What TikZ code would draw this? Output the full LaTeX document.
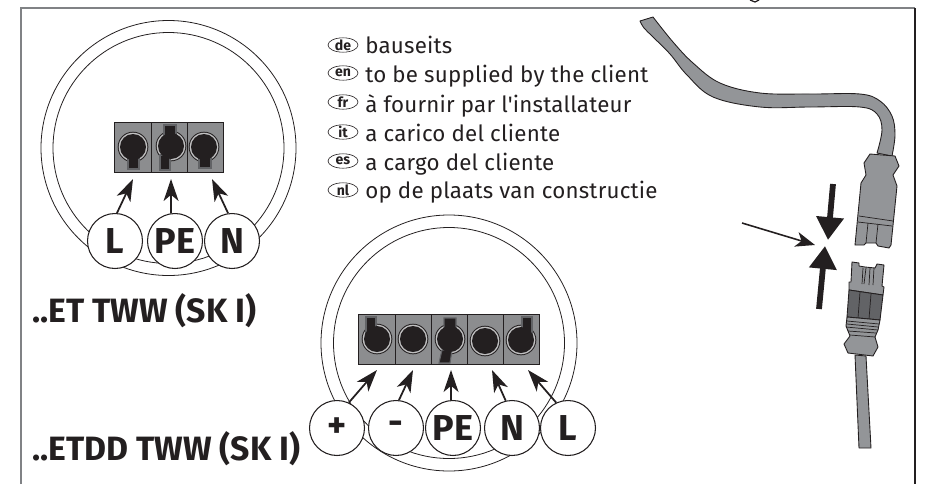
\documentclass[tikz,border=0pt]{standalone}
\usepackage{fontspec}
\setmainfont{Fira Sans}
\newfontfamily\bodyf[LetterSpace=1]{Fira Sans}
\usetikzlibrary{arrows.meta}
\definecolor{ink}{HTML}{231F20}
\definecolor{termgray}{HTML}{8C8D8F}
\definecolor{cablegray}{HTML}{939598}
\definecolor{darkgray}{HTML}{626366}
\definecolor{framegray}{HTML}{808285}
\tikzset{
  ring/.style={draw=ink,line width=.45pt},
  term/.style={draw=ink,fill=termgray,line width=.5pt},
  bubble/.style={circle,draw=ink,fill=white,line width=.6pt,minimum size=1.1cm,inner sep=0pt,text=ink,font=\fontsize{20.5}{22}\selectfont\bfseries},
  wire/.style={draw=ink,line width=1pt,-{Stealth[length=12.5pt,width=8.5pt,inset=3.5pt]}},
  bigarrow/.style={draw=ink,line width=3.3pt,-{Triangle[length=13pt,width=15pt]},shorten >=0pt},
  thinarrow/.style={draw=ink,line width=.9pt,-{Stealth[length=11pt,width=8.5pt,inset=3pt]}},
  part/.style={draw=ink,fill=cablegray,line width=.5pt,line join=round},
  detail/.style={draw=ink,line width=.4pt},
  langline/.style={anchor=base west,text=ink,font=\bodyf\fontsize{12.7}{15}\selectfont,inner sep=0pt},
  heading/.style={anchor=base west,text=ink,inner sep=0pt,font=\fontsize{19.2}{21}\selectfont\bfseries}
}
% keyhole: x, y, tab path
\newcommand{\keyhole}[3]{%
  \fill[ink] (#1,#2) circle[radius=15.3];
  \fill[termgray!55] (#1,#2) circle[radius=14.3];
  \ifx&#3&\else\draw[fill=ink,draw=darkgray,line width=.6pt] #3;\fi
  \fill[ink] (#1,#2) circle[radius=13];
}
\newcommand{\langmark}[3]{%
  \draw[ink,line width=.35pt] (343,#1) ellipse[x radius=15,y radius=7.2];
  \node[text=ink,inner sep=0pt,font=\fontsize{8}{8}\selectfont\bfseries] (#2) at (343,#1) {#3};
}
\begin{document}
\begin{tikzpicture}[x=0.02cm,y=-0.02cm]
\useasboundingbox (0,0) rectangle (937,484);
% frame
\draw[framegray,line width=.8pt] (21,484) -- (21,8) -- (915,8);
\draw[ink,line width=.7pt] (915,8) -- (915,484);
\draw[ink,line width=.7pt] (750,0) -- (755,2) -- (759,0);
% left unit
\draw[ring] (168.5,148) circle[radius=127.5];
\draw[ring] (168.5,148) circle[radius=115.5];
\draw[term] (114,122) rectangle (151,172);
\draw[term] (151,122) rectangle (187,172);
\draw[term] (187,122) rectangle (223,172);
\keyhole{133}{147}{(128,155) -- (128,169) -- (139,169) -- (139,155) -- cycle}
\keyhole{171}{146}{(160,155) -- (160,170) -- (170,170) -- (170,155) -- cycle (164,125) -- (164,138) -- (176,138) -- (176,125) -- cycle}
\keyhole{204}{147}{(199,155) -- (199,168) -- (211,168) -- (211,155) -- cycle}
\node[bubble] (L1) at (115,241) {L};
\node[bubble] (PE1) at (175,241) {PE};
\node[bubble] (N1) at (232,241) {N};
\coordinate (tL1) at (133,179);
\coordinate (tPE1) at (171,179);
\coordinate (tN1) at (212,179);
\draw[wire] (L1.86) -- (tL1);
\draw[wire] (PE1.98) -- (tPE1);
\draw[wire] (N1.98) -- (tN1);
\node[heading] (h1) at (32,322) {..ET TWW (SK I)};
% right unit
\draw[ring] (449,343) circle[radius=128];
\draw[ring] (449,343) circle[radius=115.5];
\draw[term] (358,314) rectangle (395,364);
\draw[term] (395,314) rectangle (431,364);
\draw[term] (431,314) rectangle (467,364);
\draw[term] (467,314) rectangle (503,364);
\draw[term] (503,314) rectangle (539,364);
\keyhole{377}{339}{(366,317) -- (366,335) -- (376,335) -- (376,317) -- cycle}
\keyhole{413}{339}{}
\keyhole{450}{339}{(444,318) -- (444,330) -- (456,330) -- (456,318) -- cycle (442,350) -- (439,363) -- (450,363) -- (452,350) -- cycle}
\keyhole{485}{341}{}
\keyhole{521}{340}{(522,317) -- (522,335) -- (532,335) -- (532,317) -- cycle}
\node[bubble] (P2) at (337,428) {+};
\node[bubble] (M2) at (396,428) {\raisebox{-2.5pt}{-}};
\node[bubble] (PE2) at (453,428) {PE};
\node[bubble] (N2) at (512,428) {N};
\node[bubble] (L2) at (568,428) {L};
\coordinate (tP2) at (377,370);
\coordinate (tM2) at (413,370);
\coordinate (tPE2) at (451,370);
\coordinate (tN2) at (492,370);
\coordinate (tL2) at (528,370);
\draw[wire] (P2.65) -- (tP2);
\draw[wire] (M2.84) -- (tM2);
\draw[wire] (PE2.94) -- (tPE2);
\draw[wire] (N2.103) -- (tN2);
\draw[wire] (L2.115) -- (tL2);
\node[heading] (h2) at (32,460) {..ETDD TWW (SK I)};
% language list
\langmark{45}{de}{de}
\langmark{73}{en}{en}
\langmark{102}{fr}{fr}
\langmark{132}{it}{it}
\langmark{161}{es}{es}
\langmark{190}{nl}{nl}
\node[langline] (t1) at (365,53) {bauseits};
\node[langline] (t2) at (365,82) {to be supplied by the client};
\node[langline] (t3) at (365,112) {à fournir par l'installateur};
\node[langline] (t4) at (365,141) {a carico del cliente};
\node[langline] (t5) at (365,170) {a cargo del cliente};
\node[langline] (t6) at (365,198) {op de plaats van constructie};
% cable
\draw[part] plot[smooth,tension=.6] coordinates {(653,17) (673,42) (693,63) (720,83) (760,93) (810,94) (860,94) (880,101) (892,116) (895,135) (892,156)}
  -- plot[smooth,tension=.6] coordinates {(877,153) (882,130) (877,114) (860,107) (810,107) (760,107) (713,97) (687,75) (670,54) (653,37) (644,28) (640,21)} -- cycle;
% upper connector
\draw[part] (870,154) -- (895,156) -- (899,166) -- (893,175) -- (897,186) -- (891,245) -- (889,248) -- (878,246) -- (876,243) -- (866,243) -- (864,245) -- (855,245) -- (861,183) -- (866,175) -- (864,163) -- cycle;
\draw[detail] (859,216) -- (893,221) (858,222) -- (892,226);
\draw[detail] (868,223) -- (866,243) (878,224) -- (876,243);
% lower connector
\draw[part] (852,262) -- (859,263) -- (859,266) -- (865,267) -- (875,268) -- (877,264) -- (884,265) -- (882,286) -- (884,287) -- (883,295) -- (849,290) -- (849,282) -- (851,282) -- cycle;
\draw[detail] (863,268) -- (862,284) (866,268) -- (864,284) (874,268) -- (873,285) (870,268) -- (869,285);
\draw[part,fill=darkgray] (849,290) -- (883,295) -- (880,320) -- (847,317) -- cycle;
\draw[detail] (860,292) -- (858,318) (871,294) -- (869,319);
\draw[part] (847,317) -- (880,320) -- (878,330) -- (875,337) -- (878,347) -- (873,356) -- (848,353) -- (844,344) -- (850,336) -- (846,326) -- cycle;
\draw[detail] (847,321) -- (879,324) (847,324) -- (878,327) (846,327) -- (878,330) (848,331) -- (876,333) (850,335) -- (875,337);
\draw[part] (855,355) -- (859,448) -- (871,448) -- (866,356) -- cycle;
% gap arrows
\coordinate (aDs) at (833,184);
\coordinate (aDe) at (828,240);
\coordinate (aUs) at (819,309);
\coordinate (aUe) at (825,246);
\coordinate (aTs) at (742,223);
\coordinate (aTe) at (815,245);
\draw[bigarrow] (aDs) -- (aDe);
\draw[bigarrow] (aUs) -- (aUe);
\draw[thinarrow] (aTs) -- (aTe);
\end{tikzpicture}
\end{document}
